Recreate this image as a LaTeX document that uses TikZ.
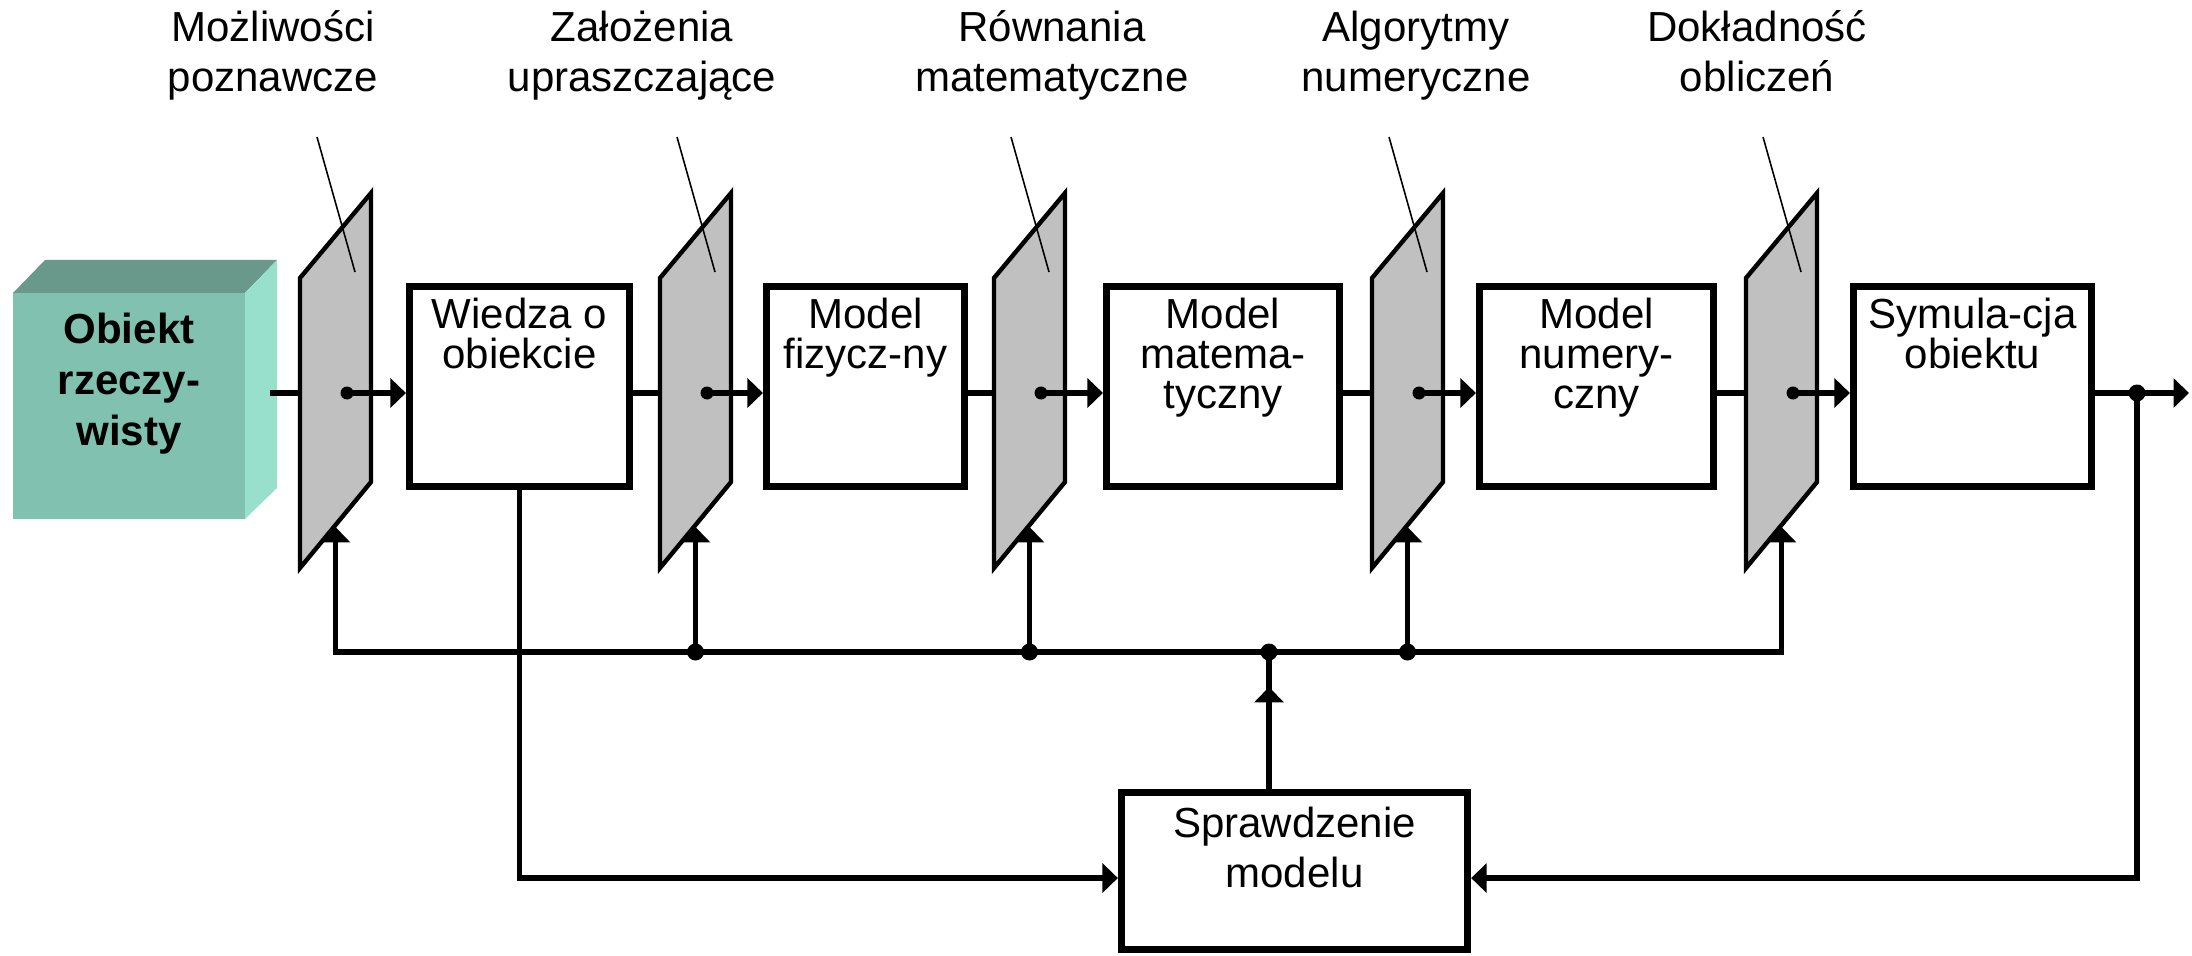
\documentclass[tikz,border=0pt]{standalone}
\usepackage{fontspec}
\setmainfont{Liberation Sans}
\usetikzlibrary{arrows.meta,calc}
\definecolor{cubefront}{RGB}{128,193,176}
\definecolor{cubetop}{RGB}{105,153,138}
\definecolor{cuberight}{RGB}{152,224,204}
\definecolor{filtergray}{RGB}{192,192,192}
\newcommand{\myfs}[1]{\fontsize{11.95pt}{#1}\selectfont\lineskiplimit=-20pt\relax}
\newcommand{\tstrut}{\rule{0pt}{12pt}}
\begin{document}
\begin{tikzpicture}[x=0.01cm,y=-0.01cm,
  box/.style={draw,line width=2pt,inner sep=0pt},
  conn/.style={line width=1.6pt},
  tip/.style={-{Triangle[length=4.4pt,width=8.2pt]}},
  filt/.style={draw,line width=1.25pt,fill=filtergray,line join=miter},
  leader/.style={line width=0.45pt},
  lbl/.style={anchor=north,inner sep=0pt,align=center,font=\myfs{14.2pt}},
  btext/.style={anchor=north,inner sep=0pt,align=center,font=\myfs{11.38pt}}
]
\useasboundingbox (0,0) rectangle (2192,955);

% cube
\fill[cubefront] (13,293) rectangle (245,519);
\fill[cubetop] (13,293) -- (45,260) -- (277,260) -- (245,293) -- cycle;
\fill[cuberight] (245,293) -- (277,260) -- (277,488) -- (245,519) -- cycle;
\node[anchor=north,inner sep=0pt,align=center,font=\myfs{14.5pt}\bfseries] (obiekt) at (129,301) {\tstrut Obiekt\\rzeczy-\\wisty};
\coordinate (cubeout) at (270,393);

% filters
\foreach \i/\x in {1/300,2/660,3/994,4/1372,5/1746}{
  \draw[filt] (\x,278) -- (\x+71,193) -- (\x+71,482) -- (\x,568) -- cycle;
  \coordinate (f\i-in) at (\x,393);
  \coordinate (f\i-dot) at (\x+47,393);
  \coordinate (f\i-bot) at (\x+35.5,527);
  \coordinate (f\i-bus) at (\x+35.5,652);
  \draw[leader] (\x+17,137) -- (\x+55,272);
}

% boxes
\node[box,minimum width=2.20cm,minimum height=1.99cm] (wiedza) at (519.5,386.5) {};
\node[box,minimum width=1.98cm,minimum height=1.99cm] (fiz) at (865.5,386.5) {};
\node[box,minimum width=2.33cm,minimum height=1.99cm] (mat) at (1223,386.5) {};
\node[box,minimum width=2.34cm,minimum height=1.99cm] (num) at (1596.5,386.5) {};
\node[box,minimum width=2.38cm,minimum height=1.99cm] (sym) at (1972.5,386.5) {};
\node[box,minimum width=3.46cm,minimum height=1.57cm] (spr) at (1294.5,871) {};

% box texts
\node[btext] (wiedzaT) at (519.5,286) {\tstrut Wiedza o\\obiekcie};
\node[btext] (fizT) at (865.5,286) {\tstrut Model\\fizycz-ny};
\node[btext] (matT) at (1223,286) {\tstrut Model\\matema-\\tyczny};
\node[btext] (numT) at (1596.5,286) {\tstrut Model\\numery-\\czny};
\node[btext] (symT) at (1972.5,286) {\tstrut Symula-cja\\obiektu};
\node[anchor=north,inner sep=0pt,align=center,font=\myfs{14.2pt}] (sprT) at (1294.5,795) {\tstrut Sprawdzenie\\modelu};

% top labels
\node[lbl] (l1) at (273,-1) {\tstrut Możliwości\\poznawcze};
\node[lbl] (l2) at (642,-1) {\tstrut Założenia\\upraszczające};
\node[lbl] (l3) at (1052,-1) {\tstrut Równania\\matematyczne};
\node[lbl] (l4) at (1416,-1) {\tstrut Algorytmy\\numeryczne};
\node[lbl] (l5) at (1757,-1) {\tstrut Dokładność\\obliczeń};

% main chain
\coordinate (outdot) at (2137,393);
\coordinate (outend) at (2189,393);
\draw[conn] (cubeout) -- (f1-in);
\draw[conn,tip] (f1-dot) -- (f1-dot -| wiedza.west);
\draw[conn] (f2-in -| wiedza.east) -- (f2-in);
\draw[conn,tip] (f2-dot) -- (f2-dot -| fiz.west);
\draw[conn] (f3-in -| fiz.east) -- (f3-in);
\draw[conn,tip] (f3-dot) -- (f3-dot -| mat.west);
\draw[conn] (f4-in -| mat.east) -- (f4-in);
\draw[conn,tip] (f4-dot) -- (f4-dot -| num.west);
\draw[conn] (f5-in -| num.east) -- (f5-in);
\draw[conn,tip] (f5-dot) -- (f5-dot -| sym.west);
\draw[conn,tip] (outdot -| sym.east) -- (outend);
\foreach \i in {1,...,5}{\fill (f\i-dot) circle (6.5);}

% feedback bus
\draw[conn,{Triangle[length=4.4pt,width=8.2pt]}-{Triangle[length=4.4pt,width=8.2pt]}]
  (f1-bot) -- (f1-bus) -- (f5-bus) -- (f5-bot);
\foreach \i in {2,3,4}{\draw[conn,tip] (f\i-bus) -- (f\i-bot);}
\coordinate (sprup) at ($(spr.north)+(-25.5,0)$);
\coordinate (jct) at (sprup |- f1-bus);
\draw[conn] (sprup) -- (jct);
\draw[conn,tip] (sprup) -- ++(0,-102);
\foreach \c in {f2-bus,f3-bus,f4-bus,jct}{\fill (\c) circle (8.5);}

% model check connections
\draw[conn,tip] (wiedza.south) |- ([yshift=-2pt]spr.west);
\draw[conn,tip] (outdot) |- ([yshift=-2pt]spr.east);
\fill (outdot) circle (8.5);
\end{tikzpicture}
\end{document}
